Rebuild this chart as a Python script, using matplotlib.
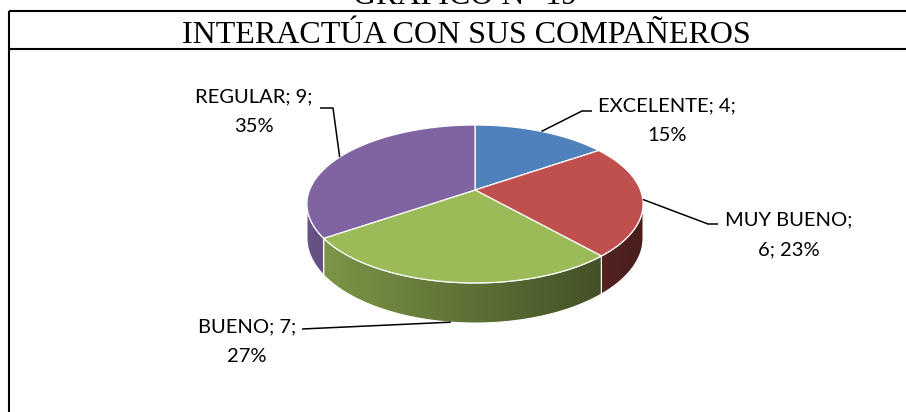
"""Pie chart 3D (estilo Excel): INTERACTÚA CON SUS COMPAÑEROS"""

import numpy as np
import matplotlib.pyplot as plt
from matplotlib.patches import Polygon
from matplotlib.colors import to_rgb

# data
categories = ['EXCELENTE', 'MUY BUENO', 'BUENO', 'REGULAR']
values = [4, 6, 7, 9]
colors = ['#4F81BD', '#C0504D', '#9BBB59', '#8064A2']
label_breaks = [2, 1, 2, 2]   # how many parts go on the first label line

title = 'INTERACTÚA CON SUS COMPAÑEROS'
caption = 'GRÁFICO N° 19'

# layout, in pixels (y grows downwards)
W, H = 906, 412
CX, CY = 475, 190          # pie apex
RX, RZ = 165.4, 76.5       # radius on screen
K = 0.177                  # perspective
DEPTH = 33
label_pos = [(667, 111), (789, 225), (247, 332), (254, 102)]
label_knees = [[(582, 111), (592, 111)],
               [(708, 224), (718, 224)],
               [(302, 329)],
               [(333, 108), (320, 108)]]
LINE_GAP = 30
LABEL_FONT = 'Lato'
LABEL_SIZE = 14.5


def project(phi, drop=0.0):
    X, Z = np.cos(phi), np.sin(phi)
    d = 1 + K * Z
    return CX + RX * X / d, CY - RZ * Z / d + drop / d


fig = plt.figure(figsize=(W / 100, H / 100), dpi=100)
ax = fig.add_axes([0, 0, 1, 1])
ax.set_xlim(0, W)
ax.set_ylim(H, 0)
ax.axis('off')

total = sum(values)
fracs = np.array(values) / total
cw = np.concatenate([[0], np.cumsum(fracs)]) * 2 * np.pi
phis = np.pi / 2 - cw          # Excel: start at 12 o'clock, clockwise

# visible front part of the side wall
phi_r = -np.arcsin(K)
phi_l = -np.pi + np.arcsin(K)
x_left, x_right = CX - RX / np.sqrt(1 - K**2), CX + RX / np.sqrt(1 - K**2)

grad_x = np.linspace(0, 1, 400)
shade = 0.82 - 0.44 * grad_x

# side walls
for i, col in enumerate(colors):
    p0, p1 = phis[i], phis[i + 1]
    hi, lo = min(p0, phi_r), max(p1, phi_l)
    if lo >= hi:
        continue
    t = np.linspace(hi, lo, 150)
    xt, yt = project(t)
    xb, yb = project(t[::-1], DEPTH)
    pts = np.column_stack([np.r_[xt, xb], np.r_[yt, yb]])
    poly = Polygon(pts, closed=True, facecolor='none', edgecolor='white',
                   linewidth=0.8, zorder=3)
    ax.add_patch(poly)
    img = np.array(to_rgb(col))[None, None, :] * shade[None, :, None]
    im = ax.imshow(img, extent=(x_left, x_right, CY + 180, CY - 100),
                   aspect='auto', zorder=2, interpolation='bilinear')
    im.set_clip_path(poly)

# top faces
for i, col in enumerate(colors):
    t = np.linspace(phis[i], phis[i + 1], 200)
    xt, yt = project(t)
    pts = np.column_stack([np.r_[CX, xt], np.r_[CY, yt]])
    ax.add_patch(Polygon(pts, closed=True, facecolor=col, edgecolor='white',
                         linewidth=0.9, zorder=4))

# labels and leader lines
for i, cat in enumerate(categories):
    pct = round(100 * values[i] / total)
    parts = [cat, str(values[i]), f'{pct}%']
    b = label_breaks[i]
    line1 = '; '.join(parts[:b]) + ';'
    line2 = '; '.join(parts[b:])
    x, y = label_pos[i]
    ax.text(x, y, line1, ha='center', va='baseline', family=LABEL_FONT,
            fontsize=LABEL_SIZE, zorder=6)
    ax.text(x, y + LINE_GAP, line2, ha='center', va='baseline',
            family=LABEL_FONT, fontsize=LABEL_SIZE, zorder=6)

    mid = (phis[i] + phis[i + 1]) / 2
    mid = np.arctan2(np.sin(mid), np.cos(mid))
    drop = DEPTH if phi_l < mid < phi_r else 0
    ax_, ay_ = project(mid, drop)
    pts = [(ax_, ay_)] + label_knees[i]
    ax.plot([p[0] for p in pts], [p[1] for p in pts], color='black',
            lw=1.1, zorder=5, solid_capstyle='butt')

# title box
ax.plot([9, W], [11, 11], color='black', lw=1.5, solid_capstyle='butt')
ax.plot([9, W], [49, 49], color='black', lw=1.5, solid_capstyle='butt')
ax.plot([9, 9], [11, H], color='black', lw=1.5, solid_capstyle='butt')
ax.text(466, 42.5, title, ha='center', va='baseline',
        family='Liberation Serif', fontsize=23)
ax.text(465, 3.5, caption, ha='center', va='baseline',
        family='Liberation Serif', fontsize=23)

fig.savefig('out.png', dpi=100)
